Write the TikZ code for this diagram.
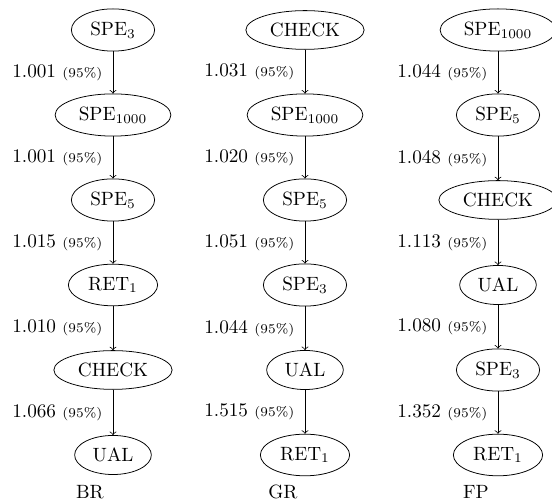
\documentclass[tikz,border=0pt]{standalone}
\usetikzlibrary{shapes.geometric}
\begin{document}
\begin{tikzpicture}[x=0.5208pt,y=-0.5208pt,
  st/.style={ellipse,draw,inner sep=3.5pt},
  ar/.style={->},
  lb/.style={left,xshift=-2pt},
  captxt/.style={inner sep=0pt}]
\useasboundingbox (0,0) rectangle (552,502);
% column BR
\node[st] (a1) at (113,30) {SPE$_3$};
\node[st] (a2) at (113,115) {SPE$_{1000}$};
\node[st] (a3) at (113,200) {SPE$_5$};
\node[st] (a4) at (113,285) {RET$_1$};
\node[st] (a5) at (113,370) {CHECK};
\node[st] (a6) at (113,455) {UAL};
\node[captxt] (ca) at (90,492) {BR};
\draw[ar] (a1) -- node[lb] {1.001 {\scriptsize (95\%)}} (a2);
\draw[ar] (a2) -- node[lb] {1.001 {\scriptsize (95\%)}} (a3);
\draw[ar] (a3) -- node[lb] {1.015 {\scriptsize (95\%)}} (a4);
\draw[ar] (a4) -- node[lb] {1.010 {\scriptsize (95\%)}} (a5);
\draw[ar] (a5) -- node[lb] {1.066 {\scriptsize (95\%)}} (a6);
% column GR
\node[st] (b1) at (305,30) {CHECK};
\node[st] (b2) at (305,115) {SPE$_{1000}$};
\node[st] (b3) at (305,200) {SPE$_5$};
\node[st] (b4) at (305,285) {SPE$_3$};
\node[st] (b5) at (305,370) {UAL};
\node[st] (b6) at (305,455) {RET$_1$};
\node[captxt] (cb) at (283,492) {GR};
\draw[ar] (b1) -- node[lb] {1.031 {\scriptsize (95\%)}} (b2);
\draw[ar] (b2) -- node[lb] {1.020 {\scriptsize (95\%)}} (b3);
\draw[ar] (b3) -- node[lb] {1.051 {\scriptsize (95\%)}} (b4);
\draw[ar] (b4) -- node[lb] {1.044 {\scriptsize (95\%)}} (b5);
\draw[ar] (b5) -- node[lb] {1.515 {\scriptsize (95\%)}} (b6);
% column FP
\node[st] (c1) at (498,30) {SPE$_{1000}$};
\node[st] (c2) at (498,115) {SPE$_5$};
\node[st] (c3) at (498,200) {CHECK};
\node[st] (c4) at (498,285) {UAL};
\node[st] (c5) at (498,370) {SPE$_3$};
\node[st] (c6) at (498,455) {RET$_1$};
\node[captxt] (cc) at (476,492) {FP};
\draw[ar] (c1) -- node[lb] {1.044 {\scriptsize (95\%)}} (c2);
\draw[ar] (c2) -- node[lb] {1.048 {\scriptsize (95\%)}} (c3);
\draw[ar] (c3) -- node[lb] {1.113 {\scriptsize (95\%)}} (c4);
\draw[ar] (c4) -- node[lb] {1.080 {\scriptsize (95\%)}} (c5);
\draw[ar] (c5) -- node[lb] {1.352 {\scriptsize (95\%)}} (c6);
\end{tikzpicture}
\end{document}
